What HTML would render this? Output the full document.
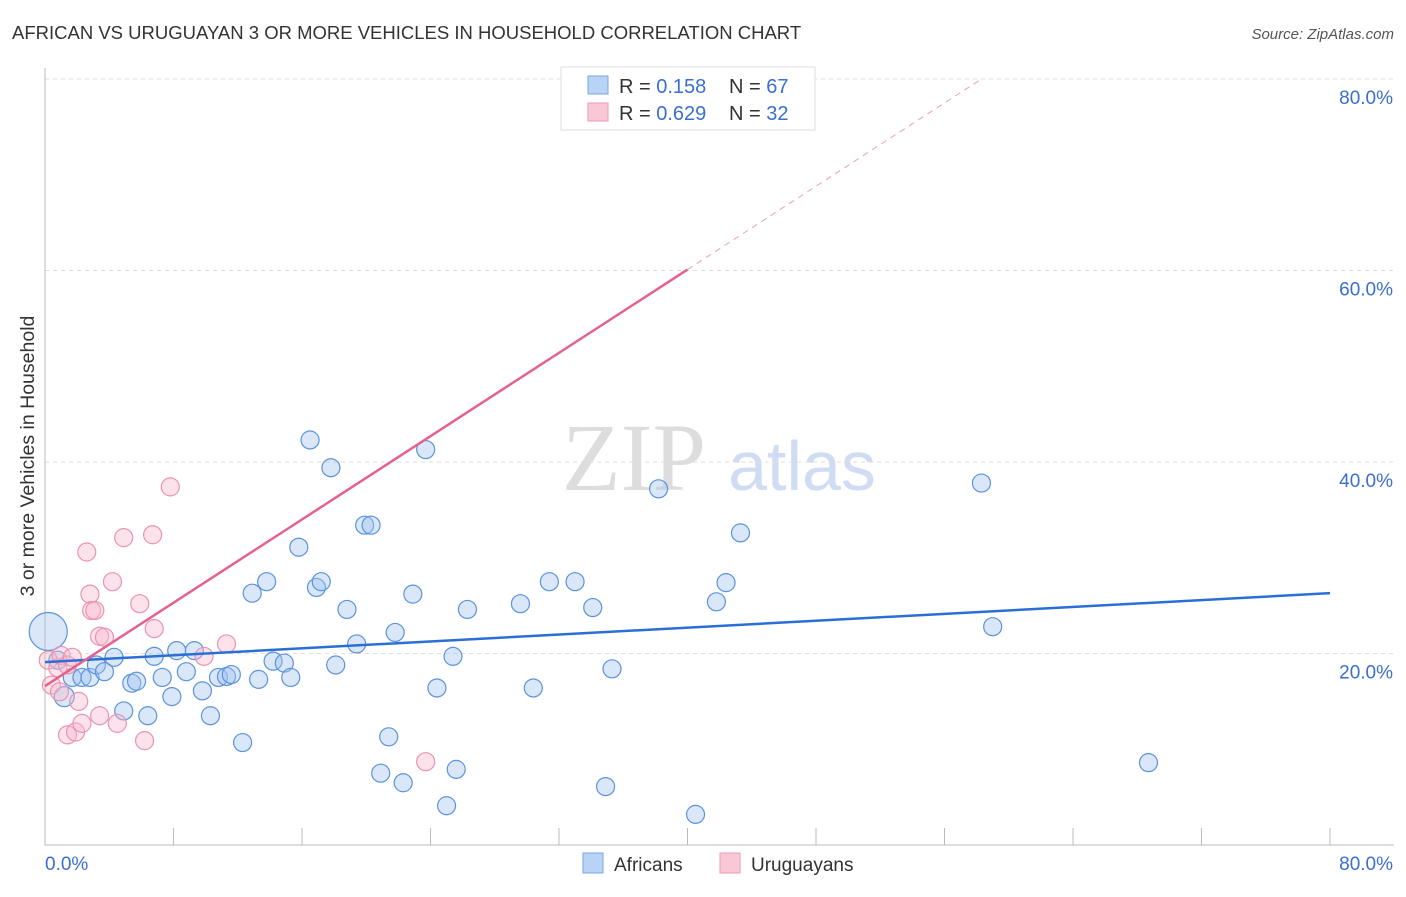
<!DOCTYPE html>
<html><head><meta charset="utf-8"><style>
body{margin:0;background:#fff;font-family:"Liberation Sans",sans-serif}
</style></head><body>
<svg id="chart" width="1406" height="892" xmlns="http://www.w3.org/2000/svg" font-family="Liberation Sans, sans-serif">
<text x="12" y="39" font-size="18.5" fill="#333">AFRICAN VS URUGUAYAN 3 OR MORE VEHICLES IN HOUSEHOLD CORRELATION CHART</text>
<text x="1394" y="39" font-size="15" fill="#555" text-anchor="end" font-style="italic">Source: ZipAtlas.com</text>
<text transform="translate(34,456) rotate(-90)" font-size="19.5" fill="#333" text-anchor="middle">3 or more Vehicles in Household</text>
<g>
<text x="634" y="490" font-size="96" fill="#ddd" font-family="Liberation Serif, serif" text-anchor="middle">ZIP</text>
<text x="802" y="490" font-size="70" fill="#cfdcf3" text-anchor="middle">atlas</text>
</g>
<g id="grid"></g><g id="axes"></g><g id="marks"></g>
<g>
<rect x="561" y="67" width="254" height="63" fill="#fff" stroke="#ddd"/>
<rect x="588" y="76" width="20" height="18" fill="#b8d3f5" stroke="#7aa7e0"/>
<rect x="588" y="103" width="20" height="18" fill="#f9c8d6" stroke="#ec9ab3"/>
<text x="619" y="93" font-size="20" fill="#333">R = <tspan fill="#3a6fd0">0.158</tspan></text>
<text x="729" y="93" font-size="20" fill="#333">N = <tspan fill="#3a6fd0">67</tspan></text>
<text x="619" y="120" font-size="20" fill="#333">R = <tspan fill="#3a6fd0">0.629</tspan></text>
<text x="729" y="120" font-size="20" fill="#333">N = <tspan fill="#3a6fd0">32</tspan></text>
</g>
<g>
<rect x="583" y="853" width="20" height="20" fill="#b8d3f5" stroke="#7aa7e0"/>
<text x="614" y="871" font-size="19" fill="#333">Africans</text>
<rect x="720" y="853" width="20" height="20" fill="#f9c8d6" stroke="#ec9ab3"/>
<text x="751" y="871" font-size="19" fill="#333">Uruguayans</text>
</g>
</svg>
<script>
const yTicks=[20,40,60,80];
const yTickLabels=["20.0%","40.0%","60.0%","80.0%"];
const xTicks=[0,8,16,24,32,40,48,56,64,72,80];
const africansX=[0.2,1.2,0.8,1.7,2.3,2.8,3.2,3.7,4.3,4.9,5.4,5.7,6.4,6.8,7.3,7.9,8.2,8.8,9.3,9.8,10.3,10.8,11.3,11.6,12.3,13.3,12.9,13.8,14.2,14.9,15.3,15.8,16.5,16.9,17.2,17.8,18.1,18.8,19.4,19.9,20.3,20.9,21.4,21.8,22.3,22.9,23.7,24.4,25.0,25.4,25.6,26.3,29.6,30.4,31.4,33.0,34.1,34.9,35.3,38.2,40.5,41.8,42.4,43.3,58.3,59.0,68.7];
const africansY=[22.3,15.5,19.3,17.5,17.5,17.5,18.8,18.1,19.6,14.0,16.9,17.1,13.5,19.7,17.5,15.5,20.3,18.1,20.3,16.1,13.5,17.5,17.6,17.8,10.7,17.3,26.3,27.5,19.2,19.0,17.5,31.1,42.3,26.9,27.5,39.4,18.8,24.6,21.0,33.4,33.4,7.5,11.3,22.2,6.5,26.2,41.3,16.4,4.1,19.7,7.9,24.6,25.2,16.4,27.5,27.5,24.8,6.1,18.4,37.2,3.2,25.4,27.4,32.6,37.8,22.8,8.6];
const africansR=[19,10,9,9,9,9,9,9,9,9,9,9,9,9,9,9,9,9,9,9,9,9,9,9,9,9,9,9,9,9,9,9,9,9,9,9,9,9,9,9,9,9,9,9,9,9,9,9,9,9,9,9,9,9,9,9,9,9,9,9,9,9,9,9,9,9,9];
const uruX=[0.2,0.4,0.8,1.0,1.4,0.9,1.4,1.7,1.9,2.1,2.3,2.6,2.8,2.9,3.1,3.4,3.4,3.7,4.2,4.5,4.9,5.9,6.2,6.7,6.8,7.8,9.9,11.3,23.7];
const uruY=[19.3,16.7,18.5,19.8,18.8,16.0,11.5,19.6,11.8,15.0,12.7,30.6,26.2,24.5,24.5,13.5,21.8,21.7,27.5,12.7,32.1,25.2,10.9,32.4,22.6,37.4,19.7,21.0,8.7];
const blueLine=[19.1,26.3];
const pinkLine=[16.6,1.0875];
const X0=45,X1=1330,Y0=845,PY=191.5/20;
const xs=v=>X0+v*(X1-X0)/80, ys=v=>Y0-v*PY;
const NS="http://www.w3.org/2000/svg";
function mk(p,t,a){const e=document.createElementNS(NS,t);for(const k in a)e.setAttribute(k,a[k]);p.appendChild(e);return e;}
const grid=document.getElementById('grid'),axes=document.getElementById('axes'),marks=document.getElementById('marks');
yTicks.forEach((t,i)=>{
 const l=mk(grid,'line',{x1:X0,x2:1394,y1:ys(t),y2:ys(t),stroke:'#ddd','stroke-dasharray':'4,4'});
 
 
 const tx=mk(axes,'text',{x:1393,y:ys(t)+25,'font-size':19,fill:'#3a6fd0','text-anchor':'end'});
 tx.textContent=yTickLabels[i];
 
 
});
const ax=mk(axes,'path',{d:`M${X0} 68 V${Y0} H1394`,stroke:'#bbb',fill:'none'});


xTicks.forEach(t=>{
 const l=mk(axes,'line',{x1:xs(t),x2:xs(t),y1:828,y2:Y0,stroke:'#bbb'});
 
 
});
[["0.0%",45,"start"],["80.0%",1393,"end"]].forEach(d=>{
 const tx=mk(axes,'text',{x:d[1],y:870,'font-size':19,fill:'#3a6fd0','text-anchor':d[2]});
 tx.textContent=d[0];
 
 
});
africansX.forEach((v,i)=>{
 const c=mk(marks,'circle',{cx:xs(v),cy:ys(africansY[i]),r:africansR[i],fill:'rgba(160,195,240,0.4)',stroke:'#5b93dc','stroke-width':1.2});
 
 
});
uruX.forEach((v,i)=>{
 const c=mk(marks,'circle',{cx:xs(v),cy:ys(uruY[i]),r:9,fill:'rgba(248,185,205,0.4)',stroke:'#eb93ae','stroke-width':1.2});
 
 
});
const bl=mk(marks,'line',{x1:xs(0),y1:ys(blueLine[0]),x2:xs(80),y2:ys(blueLine[1]),stroke:'#2a6fd6','stroke-width':2.5});


const pe=40, pd=(80-pinkLine[0])/pinkLine[1];
const pl=mk(marks,'line',{x1:xs(0),y1:ys(pinkLine[0]),x2:xs(pe),y2:ys(pinkLine[0]+pinkLine[1]*pe),stroke:'#e5628e','stroke-width':2.5});


const pdl=mk(marks,'line',{x1:xs(pe),y1:ys(pinkLine[0]+pinkLine[1]*pe),x2:xs(pd),y2:ys(80),stroke:'#eaa0b8','stroke-width':1,'stroke-dasharray':'6,5'});


</script>
</body></html>
